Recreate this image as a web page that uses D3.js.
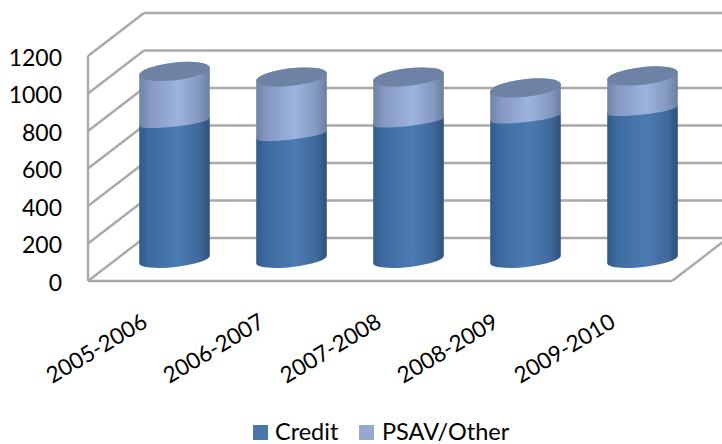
<!DOCTYPE html>
<html><head><meta charset="utf-8">
<script src="https://cdn.jsdelivr.net/npm/d3@7"></script>
<style>html,body{margin:0;padding:0;background:#fff}svg{display:block}text{font-family:Lato,"Open Sans",sans-serif;fill:#000}</style>
</head><body><svg id="c" width="722" height="444"></svg>
<script>
const categories = ["2005-2006","2006-2007","2007-2008","2008-2009","2009-2010"];
const credit = [733,664,736,757,797];
const psav = [270,309,237,158,182];
const seriesNames = ["Credit","PSAV/Other"];
const yTicks = [0,200,400,600,800,1000,1200];

const svg = d3.select("#c");
const defs = svg.append("defs");
function grad(id, stops){
  const g = defs.append("linearGradient").attr("id",id);
  stops.forEach(([o,c])=>g.append("stop").attr("offset",o).attr("stop-color",c));
}
grad("gc",[[0,"#315a8a"],[0.12,"#3c6a9e"],[0.55,"#4a7bb3"],[0.85,"#3f6a9c"],[1,"#2f507a"]]);
grad("gp",[[0,"#6f83a8"],[0.15,"#8498c2"],[0.55,"#9db3de"],[0.85,"#8499c0"],[1,"#6c7e9f"]]);
defs.append("filter").attr("id","soft").append("feGaussianBlur").attr("stdDeviation",0.5);

const depthX = 56, depthY = 43;
const yFront = d3.scaleLinear().domain([0,1200]).range([281,56]);
const yBack = v => yFront(v) - depthY;
const yMid = v => yFront(v) - 21.5;
const xFront = [88,672];
const x = d3.scaleBand().domain(categories).range([116,701]).paddingInner(0.393).paddingOuter(0.1965);

const grid = svg.append("g").attr("fill","none").attr("stroke","#a9a9a9").attr("stroke-width",2.4);
yTicks.forEach(t=>{
  grid.append("line").attr("x1",xFront[0]+depthX).attr("x2",722).attr("y1",yBack(t)).attr("y2",yBack(t));
  grid.append("line").attr("x1",xFront[0]).attr("x2",xFront[0]+depthX).attr("y1",yFront(t)).attr("y2",yBack(t));
});
grid.append("line").attr("x1",xFront[0]).attr("x2",xFront[0]).attr("y1",yFront(1200)).attr("y2",yFront(0));
grid.append("line").attr("x1",xFront[0]).attr("x2",xFront[1]).attr("y1",yFront(0)).attr("y2",yFront(0));
grid.append("line").attr("x1",xFront[1]).attr("x2",xFront[1]+depthX).attr("y1",yFront(0)).attr("y2",yBack(0));

const tilt = -6.5, ry = 8.8, ryBase = 7.5, ryJoin = 4.5;
const rad = tilt*Math.PI/180;
function side(cx, v0, v1, rx, ryLow){
  const dx = rx*Math.cos(rad), dy = rx*Math.sin(rad);
  const y0 = yMid(v0), y1 = yMid(v1);
  return `M${cx-dx},${y0-dy}A${rx},${ryLow} ${tilt} 0 0 ${cx+dx},${y0+dy}L${cx+dx},${y1+dy}A${rx},${ry} ${tilt} 0 0 ${cx-dx},${y1-dy}Z`;
}
categories.forEach((c,i)=>{
  const rx = x.bandwidth()/2, cx = x(c)+rx;
  const g = svg.append("g").attr("filter","url(#soft)");
  g.append("path").attr("d",side(cx,0,credit[i],rx,ryBase)).attr("fill","url(#gc)");
  g.append("path").attr("d",side(cx,credit[i],credit[i]+psav[i],rx,ryJoin)).attr("fill","url(#gp)");
  g.append("ellipse").attr("rx",rx).attr("ry",ry).attr("fill","#6e82a6")
    .attr("transform",`translate(${cx},${yMid(credit[i]+psav[i])}) rotate(${tilt})`);
});

const yAxis = svg.append("g").attr("transform","translate(62,0)").call(d3.axisLeft(yFront).tickValues(yTicks).tickSize(0).tickPadding(0).tickFormat(d3.format("d")));
yAxis.select(".domain").remove();
yAxis.selectAll("text").attr("font-size",23).style("font-family","Lato,sans-serif").attr("fill","#000").attr("dy","0.4em");

const xLab = d3.scaleBand().domain(categories).range([149-117*0.5,149+117*4.5]);
categories.forEach(c=>{
  svg.append("text").text(c).attr("font-size",22.5)
    .attr("text-anchor","end")
    .attr("transform",`translate(${xLab(c)+xLab.bandwidth()/2},326) rotate(-31)`);
});

const legendSwatchX = [253,359], legendTextX = [275,382], legendFill = ["#4a76aa","#95a9d0"];
seriesNames.forEach((s,i)=>{
  svg.append("rect").attr("x",legendSwatchX[i]).attr("y",425).attr("width",15).attr("height",15).attr("fill",legendFill[i]);
  svg.append("text").text(s).attr("x",legendTextX[i]).attr("y",440).attr("font-size",23.5);
});
</script></body></html>
